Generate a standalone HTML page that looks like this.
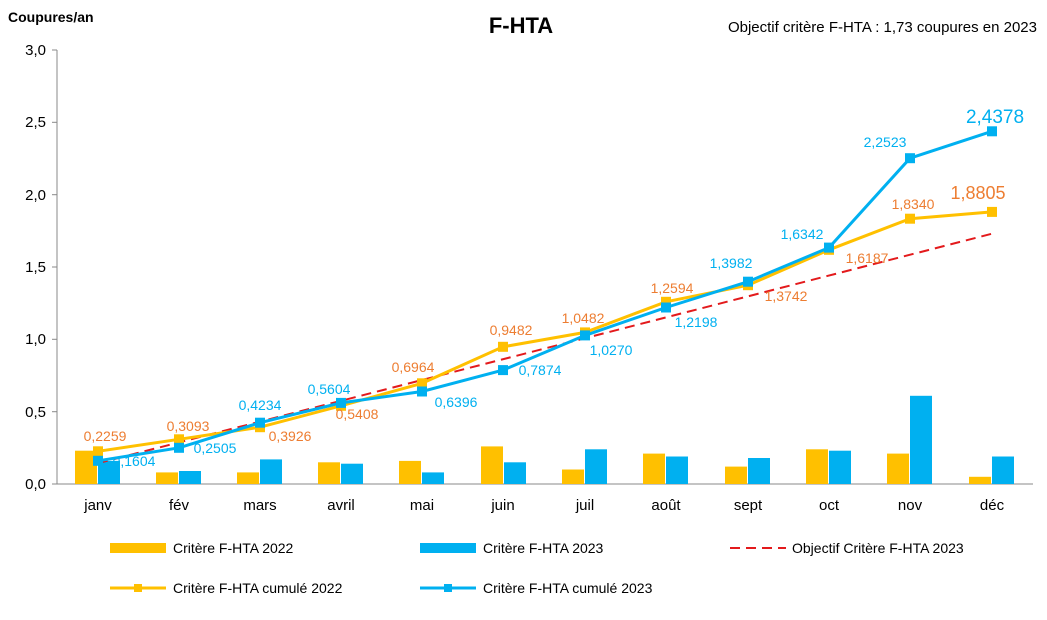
<!DOCTYPE html>
<html><head><meta charset="utf-8"><style>
html,body{margin:0;padding:0;background:#fff}
svg{display:block;font-family:"Liberation Sans",Arial,sans-serif}
</style></head><body>
<svg width="1047" height="620" viewBox="0 0 1047 620" xmlns="http://www.w3.org/2000/svg">
<rect width="1047" height="620" fill="#fff"/>
<text x="8" y="22" font-size="14" font-weight="bold">Coupures/an</text>
<text x="521" y="33" font-size="22" font-weight="bold" text-anchor="middle">F-HTA</text>
<text x="1037" y="32" font-size="15" text-anchor="end">Objectif critère F-HTA : 1,73 coupures en 2023</text>
<!-- axes -->
<g stroke="#888" stroke-width="1">
<line x1="57" y1="50" x2="57" y2="484"/>
<line x1="57" y1="484" x2="1033" y2="484"/>
<line x1="52" y1="50" x2="57" y2="50"/><line x1="52" y1="122.3" x2="57" y2="122.3"/><line x1="52" y1="194.7" x2="57" y2="194.7"/><line x1="52" y1="267" x2="57" y2="267"/><line x1="52" y1="339.3" x2="57" y2="339.3"/><line x1="52" y1="411.7" x2="57" y2="411.7"/><line x1="52" y1="484" x2="57" y2="484"/>
</g>
<g font-size="15" text-anchor="end">
<text x="46" y="55">3,0</text><text x="46" y="127">2,5</text><text x="46" y="200">2,0</text><text x="46" y="272">1,5</text><text x="46" y="344">1,0</text><text x="46" y="417">0,5</text><text x="46" y="489">0,0</text>
</g>
<g font-size="15" text-anchor="middle">
<text x="98" y="510">janv</text><text x="179" y="510">fév</text><text x="260" y="510">mars</text><text x="341" y="510">avril</text><text x="422" y="510">mai</text><text x="503" y="510">juin</text><text x="585" y="510">juil</text><text x="666" y="510">août</text><text x="748" y="510">sept</text><text x="829" y="510">oct</text><text x="910" y="510">nov</text><text x="992" y="510">déc</text>
</g>
<!-- bars 2022 -->
<g fill="#FFC000">
<rect x="75" y="450.7" width="22" height="33.3"/>
<rect x="156" y="472.4" width="22" height="11.6"/>
<rect x="237" y="472.4" width="22" height="11.6"/>
<rect x="318" y="462.3" width="22" height="21.7"/>
<rect x="399" y="460.9" width="22" height="23.1"/>
<rect x="481" y="446.4" width="22" height="37.6"/>
<rect x="562" y="469.5" width="22" height="14.5"/>
<rect x="643" y="453.6" width="22" height="30.4"/>
<rect x="725" y="466.6" width="22" height="17.4"/>
<rect x="806" y="449.3" width="22" height="34.7"/>
<rect x="887" y="453.6" width="22" height="30.4"/>
<rect x="969" y="476.8" width="22" height="7.2"/>
</g>
<g fill="#00B0F0">
<rect x="98" y="460.9" width="22" height="23.1"/>
<rect x="179" y="471" width="22" height="13"/>
<rect x="260" y="459.4" width="22" height="24.6"/>
<rect x="341" y="463.7" width="22" height="20.3"/>
<rect x="422" y="472.4" width="22" height="11.6"/>
<rect x="504" y="462.3" width="22" height="21.7"/>
<rect x="585" y="449.3" width="22" height="34.7"/>
<rect x="666" y="456.5" width="22" height="27.5"/>
<rect x="748" y="458" width="22" height="26"/>
<rect x="829" y="450.7" width="22" height="33.3"/>
<rect x="910" y="395.8" width="22" height="88.2"/>
<rect x="992" y="456.5" width="22" height="27.5"/>
</g>
<!-- objective -->
<line x1="98" y1="463.2" x2="992" y2="233.7" stroke="#E31A1C" stroke-width="2" stroke-dasharray="10,6"/>
<!-- cum 2022 -->
<polyline fill="none" stroke="#FFC000" stroke-width="3" points="98,451.3 179,439.3 260,427.2 341,405.8 422,383.3 503,346.8 585,332.4 666,301.8 748,285.2 829,249.8 910,218.7 992,211.9"/>
<g fill="#FFC000">
<rect x="93" y="446.3" width="10" height="10"/><rect x="174" y="434.3" width="10" height="10"/><rect x="255" y="422.2" width="10" height="10"/><rect x="336" y="400.8" width="10" height="10"/><rect x="417" y="378.3" width="10" height="10"/><rect x="498" y="341.8" width="10" height="10"/><rect x="580" y="327.4" width="10" height="10"/><rect x="661" y="296.8" width="10" height="10"/><rect x="743" y="280.2" width="10" height="10"/><rect x="824" y="244.8" width="10" height="10"/><rect x="905" y="213.7" width="10" height="10"/><rect x="987" y="206.9" width="10" height="10"/>
</g>
<!-- cum 2023 -->
<polyline fill="none" stroke="#00B0F0" stroke-width="3" points="98,460.8 179,447.8 260,422.7 341,402.9 422,391.5 503,370.1 585,335.4 666,307.5 748,281.7 829,247.6 910,158.2 992,131.3"/>
<g fill="#00B0F0">
<rect x="93" y="455.8" width="10" height="10"/><rect x="174" y="442.8" width="10" height="10"/><rect x="255" y="417.7" width="10" height="10"/><rect x="336" y="397.9" width="10" height="10"/><rect x="417" y="386.5" width="10" height="10"/><rect x="498" y="365.1" width="10" height="10"/><rect x="580" y="330.4" width="10" height="10"/><rect x="661" y="302.5" width="10" height="10"/><rect x="743" y="276.7" width="10" height="10"/><rect x="824" y="242.6" width="10" height="10"/><rect x="905" y="153.2" width="10" height="10"/><rect x="987" y="126.3" width="10" height="10"/>
</g>
<!-- labels 2022 -->
<g fill="#ED7D31" font-size="14" text-anchor="middle">
<text x="105" y="441">0,2259</text><text x="188" y="431">0,3093</text><text x="290" y="441">0,3926</text><text x="357" y="419">0,5408</text><text x="413" y="372">0,6964</text><text x="511" y="335">0,9482</text><text x="583" y="323">1,0482</text><text x="672" y="293">1,2594</text><text x="786" y="301">1,3742</text><text x="867" y="263">1,6187</text><text x="913" y="209">1,8340</text><text x="978" y="199" font-size="18">1,8805</text>
</g>
<g fill="#00B0F0" font-size="14" text-anchor="middle">
<text x="134" y="466">0,1604</text><text x="215" y="453">0,2505</text><text x="260" y="410">0,4234</text><text x="329" y="394">0,5604</text><text x="456" y="407">0,6396</text><text x="540" y="375">0,7874</text><text x="611" y="355">1,0270</text><text x="696" y="327">1,2198</text><text x="731" y="268">1,3982</text><text x="802" y="239">1,6342</text><text x="885" y="147">2,2523</text><text x="995" y="123" font-size="19">2,4378</text>
</g>
<!-- legend -->
<rect x="110" y="543" width="56" height="10" fill="#FFC000"/>
<text x="173" y="553" font-size="14">Critère F-HTA 2022</text>
<rect x="420" y="543" width="56" height="10" fill="#00B0F0"/>
<text x="483" y="553" font-size="14">Critère F-HTA 2023</text>
<line x1="730" y1="548" x2="786" y2="548" stroke="#E31A1C" stroke-width="2" stroke-dasharray="10,6"/>
<text x="792" y="553" font-size="14">Objectif Critère F-HTA 2023</text>
<line x1="110" y1="588" x2="166" y2="588" stroke="#FFC000" stroke-width="3"/><rect x="134" y="584" width="8" height="8" fill="#FFC000"/>
<text x="173" y="593" font-size="14">Critère F-HTA cumulé 2022</text>
<line x1="420" y1="588" x2="476" y2="588" stroke="#00B0F0" stroke-width="3"/><rect x="444" y="584" width="8" height="8" fill="#00B0F0"/>
<text x="483" y="593" font-size="14">Critère F-HTA cumulé 2023</text>
</svg>
</body></html>
